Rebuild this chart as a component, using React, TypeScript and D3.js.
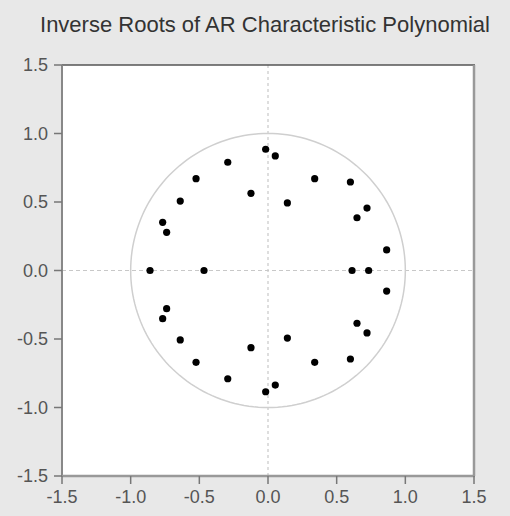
import React, { useEffect, useRef } from "react";
import * as d3 from "d3";

const title = "Inverse Roots of AR Characteristic Polynomial";
const xTicks = [-1.5, -1.0, -0.5, 0.0, 0.5, 1.0, 1.5];
const yTicks = [-1.5, -1.0, -0.5, 0.0, 0.5, 1.0, 1.5];

const rootsRe = [
  -0.017, 0.053, -0.293, -0.524, 0.34, -0.124, 0.141, -0.639, -0.767, -0.738,
  0.6, 0.721, 0.648, 0.864,
  -0.017, 0.053, -0.293, -0.524, 0.34, -0.124, 0.141, -0.639, -0.767, -0.738,
  0.6, 0.721, 0.648, 0.864,
  -0.859, -0.466, 0.612, 0.733,
];
const rootsIm = [
  0.885, 0.836, 0.79, 0.67, 0.67, 0.563, 0.493, 0.507, 0.352, 0.279,
  0.646, 0.456, 0.385, 0.15,
  -0.885, -0.836, -0.79, -0.67, -0.67, -0.563, -0.493, -0.507, -0.352, -0.279,
  -0.646, -0.456, -0.385, -0.15,
  0.0, 0.0, 0.0, 0.0,
];

const W = 510;
const H = 516;
const L = 62, R = 474, T = 65, B = 476;

export default function App() {
  const ref = useRef<SVGSVGElement>(null);
  useEffect(() => {
    const svg = d3.select(ref.current);
    svg.selectAll("*").remove();
    const x = d3.scaleLinear().domain([-1.5, 1.5]).range([L, R]);
    const y = d3.scaleLinear().domain([-1.5, 1.5]).range([B, T]);
    const font = "'Liberation Sans', Arial, sans-serif";

    svg.append("rect").attr("width", W).attr("height", H).attr("fill", "#e8e8e8");
    svg.append("rect").attr("x", L).attr("y", T).attr("width", R - L).attr("height", B - T).attr("fill", "#fff");

    svg.append("text").attr("x", 265).attr("y", 32).attr("text-anchor", "middle")
      .attr("font-family", font).attr("font-size", 22).attr("fill", "#333").text(title);

    // zero lines
    svg.append("line").attr("x1", x(0)).attr("x2", x(0)).attr("y1", T).attr("y2", B)
      .attr("stroke", "#c8c8c8").attr("stroke-width", 1.2).attr("stroke-dasharray", "3,3");
    svg.append("line").attr("x1", L).attr("x2", R).attr("y1", y(0)).attr("y2", y(0))
      .attr("stroke", "#c8c8c8").attr("stroke-width", 1.2).attr("stroke-dasharray", "4,3");

    // unit circle
    const circ = d3.range(0, 361, 2).map((a) => [Math.cos((a * Math.PI) / 180), Math.sin((a * Math.PI) / 180)]);
    svg.append("path").attr("d", d3.line<number[]>().x((d) => x(d[0])).y((d) => y(d[1]))(circ) || "")
      .attr("fill", "none").attr("stroke", "#cfcfcf").attr("stroke-width", 1.5);

    // points
    svg.append("g").selectAll("circle").data(rootsRe.map((r, i) => [r, rootsIm[i]])).join("circle")
      .attr("cx", (d) => x(d[0])).attr("cy", (d) => y(d[1])).attr("r", 3.6).attr("fill", "#000");

    // frame
    svg.append("line").attr("x1", L).attr("x2", R + 1).attr("y1", T).attr("y2", T).attr("stroke", "#555").attr("stroke-width", 1.5);
    svg.append("line").attr("x1", R).attr("x2", R).attr("y1", T).attr("y2", B).attr("stroke", "#999").attr("stroke-width", 2.5);
    svg.append("line").attr("x1", L).attr("x2", L).attr("y1", T).attr("y2", B + 1).attr("stroke", "#888").attr("stroke-width", 2);
    svg.append("line").attr("x1", L).attr("x2", R + 1).attr("y1", B).attr("y2", B).attr("stroke", "#999").attr("stroke-width", 2.5);

    const fmt = d3.format(".1f");
    const lab = (v: number) => fmt(v).replace("−", "-");
    // y ticks
    const gy = svg.append("g");
    yTicks.forEach((v) => {
      gy.append("line").attr("x1", L - 8).attr("x2", L).attr("y1", y(v)).attr("y2", y(v)).attr("stroke", "#777").attr("stroke-width", 1.5);
      gy.append("text").attr("x", L - 14).attr("y", y(v)).attr("dy", "0.36em").attr("text-anchor", "end")
        .attr("font-family", font).attr("font-size", 18).attr("fill", "#555").text(lab(v));
    });
    const gx = svg.append("g");
    xTicks.forEach((v) => {
      gx.append("line").attr("x1", x(v)).attr("x2", x(v)).attr("y1", B).attr("y2", B + 8).attr("stroke", "#777").attr("stroke-width", 1.5);
      gx.append("text").attr("x", x(v)).attr("y", 503).attr("text-anchor", "middle")
        .attr("font-family", font).attr("font-size", 18).attr("fill", "#555").text(lab(v));
    });
  }, []);
  return <svg ref={ref} width={W} height={H} style={{ position: "absolute", left: 0, top: 0 }} />;
}
